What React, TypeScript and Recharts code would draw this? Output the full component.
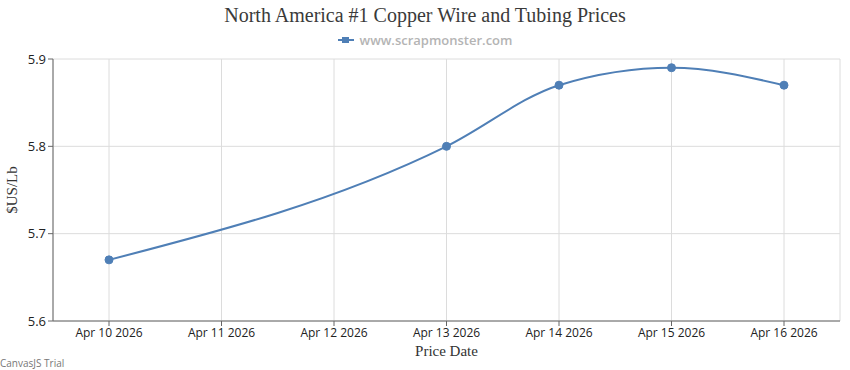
import { LineChart, Line, XAxis, YAxis, CartesianGrid } from 'recharts';

const dates = ['Apr 10 2026', 'Apr 11 2026', 'Apr 12 2026', 'Apr 13 2026', 'Apr 14 2026', 'Apr 15 2026', 'Apr 16 2026'];
const prices: (number | null)[] = [5.67, null, null, 5.8, 5.87, 5.89, 5.87];
const priceTicks = [5.6, 5.7, 5.8, 5.9];

const data = dates.map((date, i) => ({ date, price: prices[i] }));

const sans = '"Open Sans", "Noto Sans", sans-serif';
const serif = '"Liberation Serif", "DejaVu Serif", serif';

export default function App() {
    return (
        <div style={{ position: 'absolute', left: 0, top: 0, width: 850, height: 370, background: '#fff' }}>
            <LineChart width={850} height={370} data={data} margin={{ top: 59, right: 10, left: 0, bottom: 0 }}>
                <CartesianGrid stroke="#dcdcdc" />
                <XAxis
                    dataKey="date"
                    height={49}
                    stroke="#666"
                    tickSize={5}
                    padding={{ left: 56, right: 56 }}
                    tick={{ fill: '#222', fontSize: 12, fontFamily: sans }}
                    interval={0}
                />
                <YAxis
                    width={53}
                    domain={[5.6, 5.9]}
                    ticks={priceTicks}
                    stroke="#666"
                    tickSize={5}
                    tick={{ fill: '#222', fontSize: 13, fontFamily: sans }}
                    tickFormatter={(v) => Number(v).toFixed(1)}
                />
                <Line
                    type="monotone"
                    dataKey="price"
                    stroke="#4f7fb6"
                    strokeWidth={2}
                    connectNulls
                    dot={{ r: 4, fill: '#4f7fb6', stroke: '#4f7fb6', strokeWidth: 1 }}
                    isAnimationActive={false}
                />
            </LineChart>
            <div style={{ position: 'absolute', top: 4, left: 0, width: 850, textAlign: 'center', fontFamily: serif, fontSize: 20, color: '#3a3a3a' }}>
                North America #1 Copper Wire and Tubing Prices
            </div>
            <div style={{ position: 'absolute', top: 31, left: 0, width: 850, display: 'flex', justifyContent: 'center', alignItems: 'center', fontFamily: sans, fontSize: 13, fontWeight: 600, color: '#b4b4b4' }}>
                <svg width={16} height={8} style={{ marginRight: 6 }}>
                    <line x1={0} y1={4} x2={16} y2={4} stroke="#4f7fb6" strokeWidth={2} />
                    <rect x={4} y={1} width={7} height={6} fill="#4f7fb6" />
                </svg>
                www.scrapmonster.com
            </div>
            <div style={{ position: 'absolute', left: 12, top: 190, transform: 'translate(-50%, -50%) rotate(-90deg)', fontFamily: serif, fontSize: 15, color: '#333', whiteSpace: 'nowrap' }}>
                $US/Lb
            </div>
            <div style={{ position: 'absolute', top: 343, left: 53, width: 787, textAlign: 'center', fontFamily: serif, fontSize: 15, color: '#333' }}>
                Price Date
            </div>
            <div style={{ position: 'absolute', top: 356, left: 0, fontFamily: sans, fontSize: 10, color: '#777' }}>
                CanvasJS Trial
            </div>
        </div>
    );
}
